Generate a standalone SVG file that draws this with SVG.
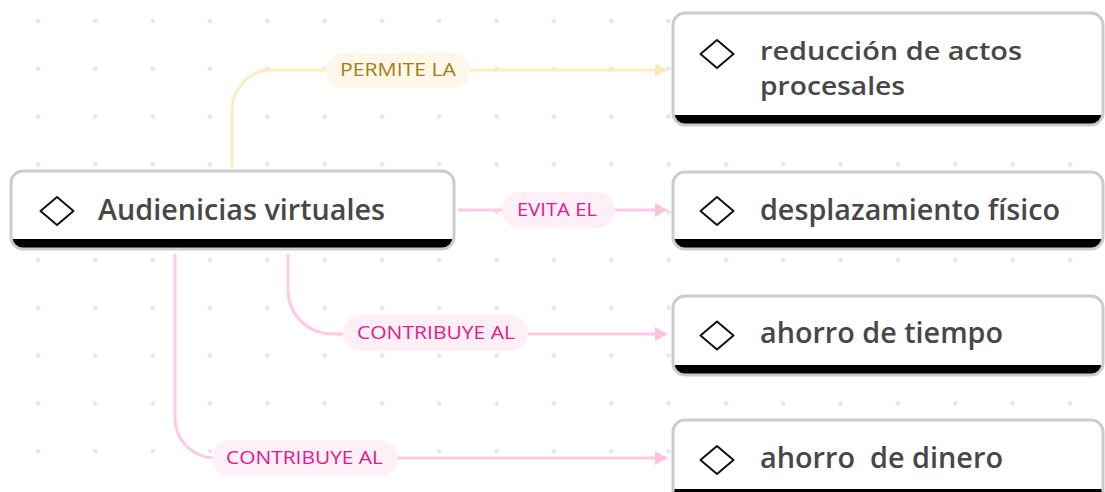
<svg xmlns="http://www.w3.org/2000/svg" width="1105" height="492" viewBox="0 0 1105 492">
<style>
.node-text{font-family:"Open Sans","Liberation Sans",sans-serif;font-weight:600;font-size:28px;fill:#474747;white-space:pre}
.node-text-sm{font-size:25.5px}
.lbl{font-family:"Open Sans","Liberation Sans",sans-serif;font-size:19px}
.lbl-y{fill:#a37d17}
.lbl-p{fill:#e8178b}
.pill-y{fill:#fff8e8}
.pill-p{fill:#fff0f7}
.conn-y{fill:none;stroke:#feecc0;stroke-width:3}
.conn-p{fill:none;stroke:#ffc9e4;stroke-width:3}
.outline{fill:none;stroke:#cccccc;stroke-width:3}
.band{fill:#000}
.face{fill:#fff}
.icon{fill:none;stroke:#111;stroke-width:2;stroke-linejoin:round}
</style>
<defs>
<pattern id="dots" patternUnits="userSpaceOnUse" x="0" y="0" width="57.33" height="47.8">
<circle cx="38" cy="21" r="2.3" fill="#e5e5ea"/>
</pattern>
<marker id="arr-y" markerUnits="userSpaceOnUse" markerWidth="12" markerHeight="14" refX="12" refY="7" orient="auto">
<path d="M0,0 L12,7 L0,14 Z" fill="#fde9b3"/>
</marker>
<marker id="arr-p" markerUnits="userSpaceOnUse" markerWidth="12" markerHeight="14" refX="12" refY="7" orient="auto">
<path d="M0,0 L12,7 L0,14 Z" fill="#ffc0de"/>
</marker>
</defs>
<rect width="1105" height="492" fill="#fff"/>
<rect width="1105" height="492" fill="url(#dots)"/>

<g id="connectors">
<path class="conn-y" d="M232,167 V110 A40,40 0 0 1 272,70 H667" marker-end="url(#arr-y)"/>
<path class="conn-p" d="M458,210 H667" marker-end="url(#arr-p)"/>
<path class="conn-p" d="M288,254 V290 A44,44 0 0 0 332,334 H667" marker-end="url(#arr-p)"/>
<path class="conn-p" d="M175,254 V418 A40,40 0 0 0 215,458 H667" marker-end="url(#arr-p)"/>
<g id="label-permite">
<rect class="pill-y" x="326" y="53" width="144" height="35" rx="17.5"/>
<text class="lbl lbl-y" x="340" y="76" textLength="116" lengthAdjust="spacingAndGlyphs">PERMITE LA</text>
</g>
<g id="label-evita">
<rect class="pill-p" x="502" y="192" width="113" height="36" rx="18"/>
<text class="lbl lbl-p" x="517" y="216" textLength="80" lengthAdjust="spacingAndGlyphs">EVITA EL</text>
</g>
<g id="label-contribuye-1">
<rect class="pill-p" x="343" y="315" width="185" height="36" rx="18"/>
<text class="lbl lbl-p" x="357" y="339" textLength="158" lengthAdjust="spacingAndGlyphs">CONTRIBUYE AL</text>
</g>
<g id="label-contribuye-2">
<rect class="pill-p" x="212" y="440" width="186" height="36" rx="18"/>
<text class="lbl lbl-p" x="226" y="464" textLength="157" lengthAdjust="spacingAndGlyphs">CONTRIBUYE AL</text>
</g>
</g>

<g id="node-audiencias">
<rect class="band" x="11" y="171" width="443" height="78" rx="12"/>
<path class="face" d="M11,239 V183 A12,12 0 0 1 23,171 H442 A12,12 0 0 1 454,183 V239 Z"/>
<rect class="outline" x="11" y="171" width="443" height="78" rx="12"/>
<path class="icon" d="M57,197 L73.5,211 L57,225 L40.5,211 Z"/>
<text class="node-text" x="98" y="220" textLength="287" lengthAdjust="spacingAndGlyphs">Audienicias virtuales</text>
</g>

<g id="node-reduccion">
<rect class="band" x="673" y="13" width="430" height="112" rx="12"/>
<path class="face" d="M673,115 V25 A12,12 0 0 1 685,13 H1091 A12,12 0 0 1 1103,25 V115 Z"/>
<rect class="outline" x="673" y="13" width="430" height="112" rx="12"/>
<path class="icon" d="M717,40 L733.5,54 L717,68 L700.5,54 Z"/>
<text class="node-text node-text-sm" x="760" y="60" textLength="262" lengthAdjust="spacingAndGlyphs">reducción de actos</text>
<text class="node-text node-text-sm" x="760" y="95" textLength="145" lengthAdjust="spacingAndGlyphs">procesales</text>
</g>

<g id="node-desplazamiento">
<rect class="band" x="673" y="172" width="430" height="77" rx="12"/>
<path class="face" d="M673,239 V184 A12,12 0 0 1 685,172 H1091 A12,12 0 0 1 1103,184 V239 Z"/>
<rect class="outline" x="673" y="172" width="430" height="77" rx="12"/>
<path class="icon" d="M717,197 L733.5,211 L717,225 L700.5,211 Z"/>
<text class="node-text" x="760" y="220" textLength="300" lengthAdjust="spacingAndGlyphs">desplazamiento físico</text>
</g>

<g id="node-tiempo">
<rect class="band" x="673" y="296" width="430" height="79" rx="12"/>
<path class="face" d="M673,365 V308 A12,12 0 0 1 685,296 H1091 A12,12 0 0 1 1103,308 V365 Z"/>
<rect class="outline" x="673" y="296" width="430" height="79" rx="12"/>
<path class="icon" d="M717,321.5 L733.5,335.5 L717,349.5 L700.5,335.5 Z"/>
<text class="node-text" x="760" y="343" textLength="243" lengthAdjust="spacingAndGlyphs">ahorro de tiempo</text>
</g>

<g id="node-dinero">
<rect class="band" x="673" y="420" width="430" height="90" rx="12"/>
<path class="face" d="M673,489 V432 A12,12 0 0 1 685,420 H1091 A12,12 0 0 1 1103,432 V489 Z"/>
<rect class="outline" x="673" y="420" width="430" height="90" rx="12"/>
<path class="icon" d="M717,446 L733.5,460 L717,474 L700.5,460 Z"/>
<text class="node-text" x="760" y="468" textLength="243" lengthAdjust="spacingAndGlyphs">ahorro  de dinero</text>
</g>
</svg>
